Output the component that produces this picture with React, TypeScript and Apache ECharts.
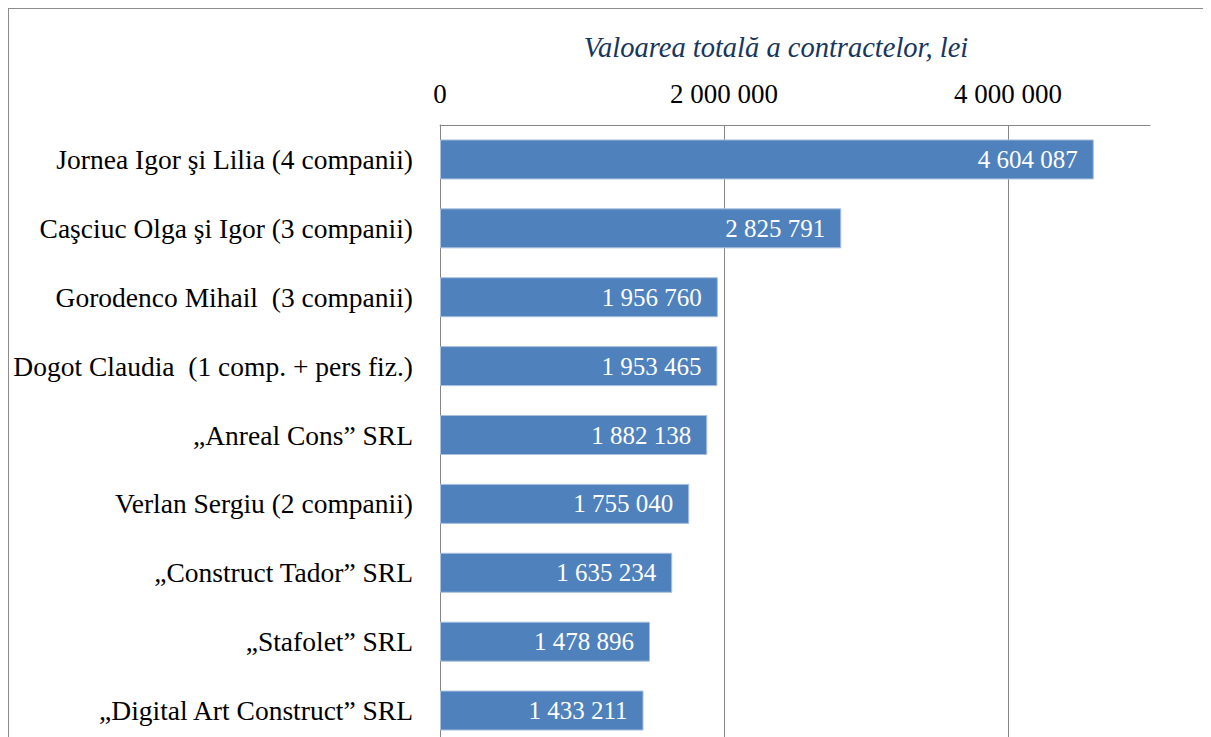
import React, { useEffect, useRef } from "react";
import * as echarts from "echarts";

const categories: string[] = [
  "Jornea Igor şi Lilia (4 companii)",
  "Caşciuc Olga şi Igor (3 companii)",
  "Gorodenco Mihail  (3 companii)",
  "Dogot Claudia  (1 comp. + pers fiz.)",
  "„Anreal Cons” SRL",
  "Verlan Sergiu (2 companii)",
  "„Construct Tador” SRL",
  "„Stafolet” SRL",
  "„Digital Art Construct” SRL",
];

const values: number[] = [
  4604087, 2825791, 1956760, 1953465, 1882138, 1755040, 1635234, 1478896, 1433211,
];

const axisTitle = "Valoarea totală a contractelor, lei";

const fmt = (v: number) => String(Math.round(v)).replace(/\B(?=(\d{3})+(?!\d))/g, " ");

const FONT = "'Liberation Serif', 'DejaVu Serif', serif";

export default function App() {
  const ref = useRef<HTMLDivElement>(null);

  useEffect(() => {
    if (!ref.current) return;
    const chart = echarts.init(ref.current, undefined, { renderer: "svg" });
    chart.setOption({
      animation: false,
      backgroundColor: "#ffffff",
      grid: { left: 431, top: 116, width: 710, height: 620, containLabel: false },
      graphic: [
        {
          type: "text",
          x: 767,
          y: 38,
          style: {
            text: axisTitle,
            font: `italic 28.5px ${FONT}`,
            fill: "#17365D",
            textAlign: "center",
            textVerticalAlign: "middle",
          },
        },
      ],
      xAxis: {
        type: "value",
        position: "top",
        min: 0,
        max: 5000000,
        interval: 2000000,
        axisLine: { show: true, lineStyle: { color: "#868686", width: 1 } },
        axisTick: { show: false },
        splitLine: {
          show: true,
          showMinLine: false,
          showMaxLine: false,
          lineStyle: { color: "#868686", width: 1 },
        },
        axisLabel: {
          show: true,
          showMaxLabel: false,
          formatter: (v: number) => (v > 4000000 ? "" : fmt(v)),
          fontFamily: FONT,
          fontSize: 27,
          color: "#000000",
          margin: 18,
        },
      },
      yAxis: {
        type: "category",
        inverse: true,
        data: categories,
        axisLine: { show: true, lineStyle: { color: "#868686", width: 1 } },
        axisTick: { show: false },
        splitLine: { show: false },
        axisLabel: {
          fontFamily: FONT,
          fontSize: 27.5,
          color: "#000000",
          margin: 27,
        },
      },
      series: [
        {
          type: "bar",
          data: values,
          barWidth: 40,
          itemStyle: { color: "#4F81BD", borderColor: "#a9c0df", borderWidth: 1 },
          label: {
            show: true,
            position: "insideRight",
            distance: 16,
            color: "#ffffff",
            fontFamily: FONT,
            fontSize: 25,
            formatter: (p: any) => fmt(p.value),
          },
        },
      ],
    });
    return () => chart.dispose();
  }, []);

  return (
    <div
      style={{
        width: 1203,
        height: 729,
        boxSizing: "border-box",
        borderTop: "1px solid #8c8c8c",
        borderLeft: "1px solid #8c8c8c",
        overflow: "hidden",
        background: "#fff",
      }}
    >
      <div ref={ref} style={{ width: 1202, height: 760 }} />
    </div>
  );
}
